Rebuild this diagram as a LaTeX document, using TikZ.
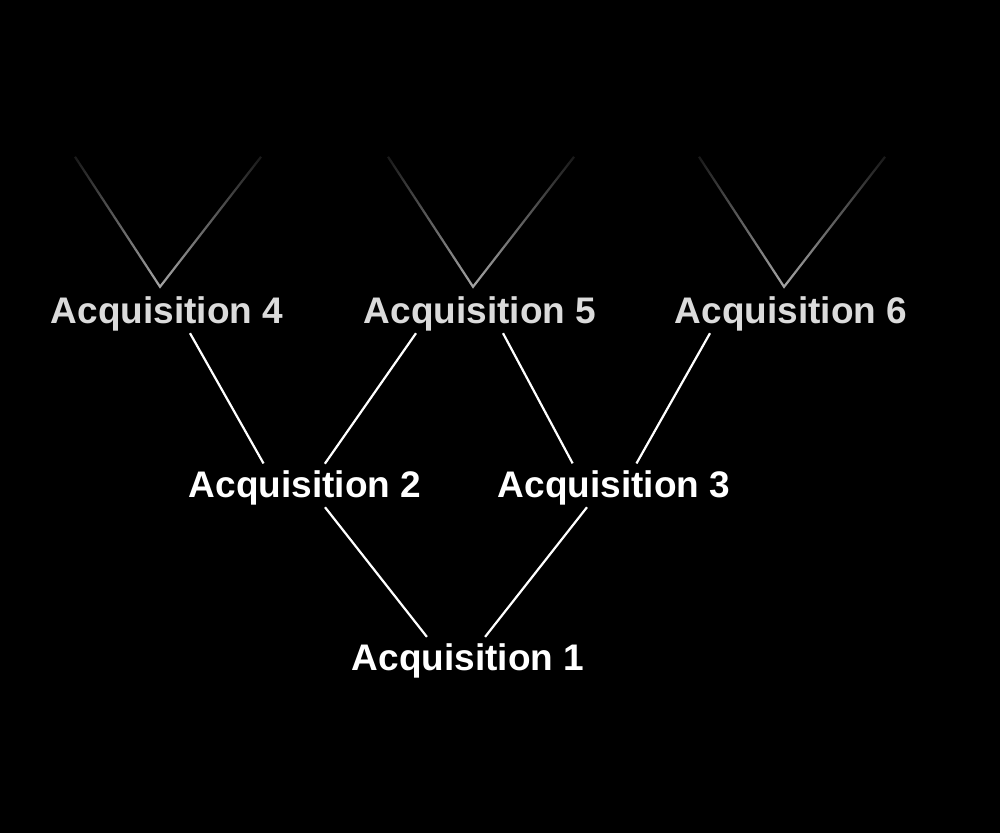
\documentclass[tikz,border=0pt]{standalone}
\usepackage{fontspec}
\setmainfont{Liberation Sans}
\usetikzlibrary{fadings}
\tikzfading[name=fadeup, top color=transparent!85, bottom color=transparent!0]

\begin{document}
\begin{tikzpicture}[x=1pt,y=-1pt,
		acq/.style={anchor=base,inner sep=2pt,text height=27pt,text depth=8pt,
			font=\fontsize{37}{40}\selectfont\bfseries,text=white},
		acqtop/.style={acq,text=black!14},
		link/.style={white,line width=2.2pt,shorten >=5pt},
		vline/.style={black!35,line width=2.2pt,path fading=fadeup}]
	\useasboundingbox[fill=black] (0,0) rectangle (1000,833);
	% acquisitions
	\node[acqtop] (a4) at (167,323) {Acquisition 4};
	\node[acqtop] (a5) at (480,323) {Acquisition 5};
	\node[acqtop] (a6) at (791,323) {Acquisition 6};
	\node[acq] (a2) at (305,497) {Acquisition 2};
	\node[acq] (a3) at (614,497) {Acquisition 3};
	\node[acq] (a1) at (468,670) {Acquisition 1};
	% links
	\draw[link] ([xshift=23pt]a4.south) -- ([xshift=-39pt]a2.north);
	\draw[link] ([xshift=-64pt]a5.south) -- ([xshift=17pt]a2.north);
	\draw[link] ([xshift=23pt]a5.south) -- ([xshift=-39pt]a3.north);
	\draw[link] ([xshift=-81pt]a6.south) -- ([xshift=20pt]a3.north);
	\draw[link] ([xshift=20pt]a2.south) -- ([xshift=-38pt]a1.north);
	\draw[link] ([xshift=-27pt]a3.south) -- ([xshift=14pt]a1.north);
	% faded branches above
	\foreach \n in {4,5,6}{
		\coordinate (v\n) at ([xshift=-7pt,yshift=7pt]a\n.north);
		\draw[vline] ([shift={(-85,-130)}]v\n) -- (v\n) -- ([shift={(101,-130)}]v\n);
	}
\end{tikzpicture}
\end{document}
